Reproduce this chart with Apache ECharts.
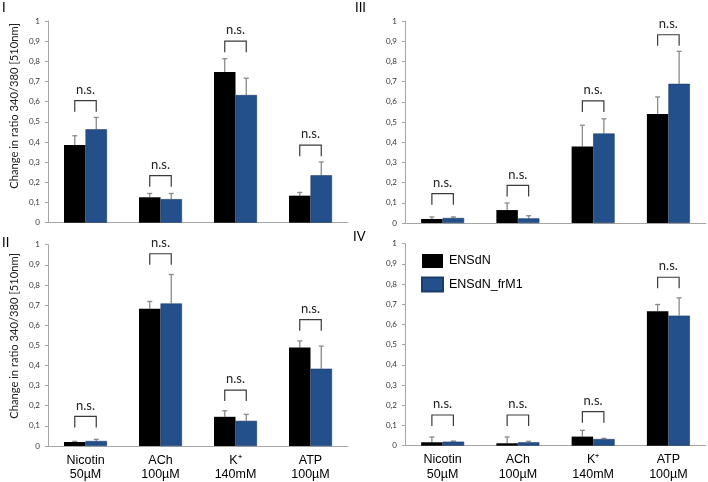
<!DOCTYPE html>
<html>
<head>
<meta charset="utf-8">
<script src="https://cdn.jsdelivr.net/npm/echarts@6/dist/echarts.min.js"></script>
<style>html,body{margin:0;padding:0;background:#fff}#c{width:708px;height:482px}</style>
</head>
<body>
<div id="c"></div>
<script>
// ---- data ----
var categories = ['Nicotin\n50µM', 'ACh\n100µM', 'K⁺\n140mM', 'ATP\n100µM'];
var seriesNames = ['ENSdN', 'ENSdN_frM1'];
var yTicks = [0, 0.1, 0.2, 0.3, 0.4, 0.5, 0.6, 0.7, 0.8, 0.9, 1];

// Panel I
var p1_black = [0.385, 0.126, 0.747, 0.134];
var p1_blackErr = [0.046, 0.019, 0.066, 0.016];
var p1_blue = [0.463, 0.117, 0.633, 0.235];
var p1_blueErr = [0.059, 0.028, 0.083, 0.066];
var p1_bracket = [0.605, 0.233, 0.90, 0.385];
// Panel II
var p2_black = [0.020, 0.682, 0.145, 0.489];
var p2_blackErr = [0.003, 0.036, 0.030, 0.033];
var p2_blue = [0.025, 0.708, 0.125, 0.384];
var p2_blueErr = [0.008, 0.144, 0.032, 0.112];
var p2_bracket = [0.147, 0.955, 0.278, 0.628];
// Panel III
var p3_black = [0.020, 0.064, 0.379, 0.540];
var p3_blackErr = [0.010, 0.035, 0.105, 0.084];
var p3_blue = [0.025, 0.023, 0.443, 0.689];
var p3_blueErr = [0.005, 0.013, 0.073, 0.161];
var p3_bracket = [0.145, 0.186, 0.605, 0.932];
// Panel IV
var p4_black = [0.017, 0.012, 0.045, 0.666];
var p4_blackErr = [0.026, 0.031, 0.031, 0.033];
var p4_blue = [0.020, 0.017, 0.033, 0.644];
var p4_blueErr = [0.003, 0.005, 0.003, 0.088];
var p4_bracket = [0.152, 0.152, 0.169, 0.834];

var panelLabels = ['I', 'II', 'III', 'IV'];
var sigText = 'n.s.';
var yTitle = 'Change in ratio 340/380 [510nm]';
var bracketLeg = 0.055;

// ---- styling ----
var BLACK = '#000000', BLUE = '#23508a';
var BAR_W = 21.5;
var AXIS_COLOR = '#a6a6a6';
var ERR_COLOR = '#8a8a8a';
var SANS = 'Lato';

var panels = [
  {black: p1_black, bErr: p1_blackErr, blue: p1_blue, uErr: p1_blueErr, br: p1_bracket,
   grid: {left: 48, top: 21, width: 300, height: 201.7}, showX: false},
  {black: p2_black, bErr: p2_blackErr, blue: p2_blue, uErr: p2_blueErr, br: p2_bracket,
   grid: {left: 48, top: 244.7, width: 300, height: 202}, showX: true},
  {black: p3_black, bErr: p3_blackErr, blue: p3_blue, uErr: p3_blueErr, br: p3_bracket,
   grid: {left: 405, top: 21, width: 301, height: 202}, showX: false},
  {black: p4_black, bErr: p4_blackErr, blue: p4_blue, uErr: p4_blueErr, br: p4_bracket,
   grid: {left: 405, top: 243.7, width: 301, height: 202}, showX: true}
];

function errRender(offset) {
  return function (params, api) {
    var i = api.value(0), v = api.value(1), e = api.value(2);
    var p0 = api.coord([i, v]);
    var p1 = api.coord([i, v + e]);
    var x = p0[0] + offset;
    var st = {stroke: ERR_COLOR, lineWidth: 1.3};
    return {type: 'group', children: [
      {type: 'line', shape: {x1: x, y1: p0[1], x2: x, y2: p1[1]}, style: st},
      {type: 'line', shape: {x1: x - 2.5, y1: p1[1], x2: x + 2.5, y2: p1[1]}, style: st}
    ]};
  };
}

function bracketRender(params, api) {
  var i = api.value(0), y = api.value(1);
  var top = api.coord([i, y]);
  var leg = api.coord([i, y - bracketLeg]);
  var xl = top[0] - BAR_W / 2, xr = top[0] + BAR_W / 2;
  return {type: 'group', children: [
    {type: 'polyline', shape: {points: [[xl, leg[1]], [xl, top[1]], [xr, top[1]], [xr, leg[1]]]},
     style: {stroke: '#3a3a3a', lineWidth: 1.2, fill: null}},
    {type: 'text', style: {text: sigText, x: top[0], y: top[1] - 11, align: 'center', verticalAlign: 'middle',
     fill: '#222', font: '13px ' + SANS}}
  ]};
}

var grids = [], xAxes = [], yAxes = [], series = [];
panels.forEach(function (p, k) {
  grids.push(p.grid);
  xAxes.push({
    type: 'category', gridIndex: k, data: categories,
    axisLine: {lineStyle: {color: AXIS_COLOR}},
    axisTick: {show: false},
    axisLabel: {show: p.showX, color: '#000', fontFamily: 'Liberation Sans', fontSize: 12.5, lineHeight: 14.5, margin: 7}
  });
  yAxes.push({
    type: 'value', gridIndex: k, min: 0, max: 1, interval: 0.1,
    splitLine: {show: false},
    axisLine: {show: true, lineStyle: {color: AXIS_COLOR}},
    axisTick: {show: true, length: 3, lineStyle: {color: AXIS_COLOR}},
    axisLabel: {color: '#333', fontFamily: SANS, fontSize: 8, margin: 8,
      formatter: function (v) { return String(Math.round(v * 10) / 10).replace('.', ','); }}
  });
  series.push({name: seriesNames[0], type: 'bar', xAxisIndex: k, yAxisIndex: k, data: p.black,
    barWidth: BAR_W, barGap: '0%', itemStyle: {color: BLACK}, z: 2});
  series.push({name: seriesNames[1], type: 'bar', xAxisIndex: k, yAxisIndex: k, data: p.blue,
    barWidth: BAR_W, barGap: '0%', itemStyle: {color: BLUE, borderColor: '#1b3d6b', borderWidth: 0.6}, z: 2});
  series.push({type: 'custom', xAxisIndex: k, yAxisIndex: k, renderItem: errRender(-BAR_W / 2),
    data: p.black.map(function (v, i) { return [i, v, p.bErr[i]]; }), z: 1, silent: true});
  series.push({type: 'custom', xAxisIndex: k, yAxisIndex: k, renderItem: errRender(BAR_W / 2),
    data: p.blue.map(function (v, i) { return [i, v, p.uErr[i]]; }), z: 1, silent: true});
  series.push({type: 'custom', xAxisIndex: k, yAxisIndex: k, renderItem: bracketRender, clip: false,
    data: p.br.map(function (v, i) { return [i, v]; }), z: 3, silent: true});
});

function titleText(cy) {
  return {type: 'text', x: 14, y: cy, rotation: Math.PI / 2,
    style: {text: yTitle, x: 0, y: 0, align: 'center', verticalAlign: 'middle',
      font: '11.2px ' + SANS, fill: '#222'}};
}

var chart = echarts.init(document.getElementById('c'), null, {renderer: 'canvas'});
chart.setOption({
  animation: false,
  backgroundColor: '#fff',
  grid: grids, xAxis: xAxes, yAxis: yAxes, series: series,
  legend: {
    data: seriesNames, orient: 'vertical', left: 416, top: 249, padding: 5,
    itemWidth: 21, itemHeight: 14, itemGap: 8.4, icon: 'rect',
    textStyle: {color: '#000', fontFamily: 'Liberation Sans', fontSize: 12.5, padding: [0, 0, 0, 1]}
  },
  graphic: [
    titleText(106),
    titleText(336),
    {type: 'text', left: 2, top: 1, style: {text: panelLabels[0], font: '13px ' + SANS, fill: '#000'}},
    {type: 'text', left: 2, top: 236, style: {text: panelLabels[1], font: '13px ' + SANS, fill: '#000'}},
    {type: 'text', left: 355, top: 1, style: {text: panelLabels[2], font: '13px ' + SANS, fill: '#000'}},
    {type: 'text', left: 353, top: 230, style: {text: panelLabels[3], font: '13px ' + SANS, fill: '#000'}}
  ]
});
</script>
</body>
</html>
